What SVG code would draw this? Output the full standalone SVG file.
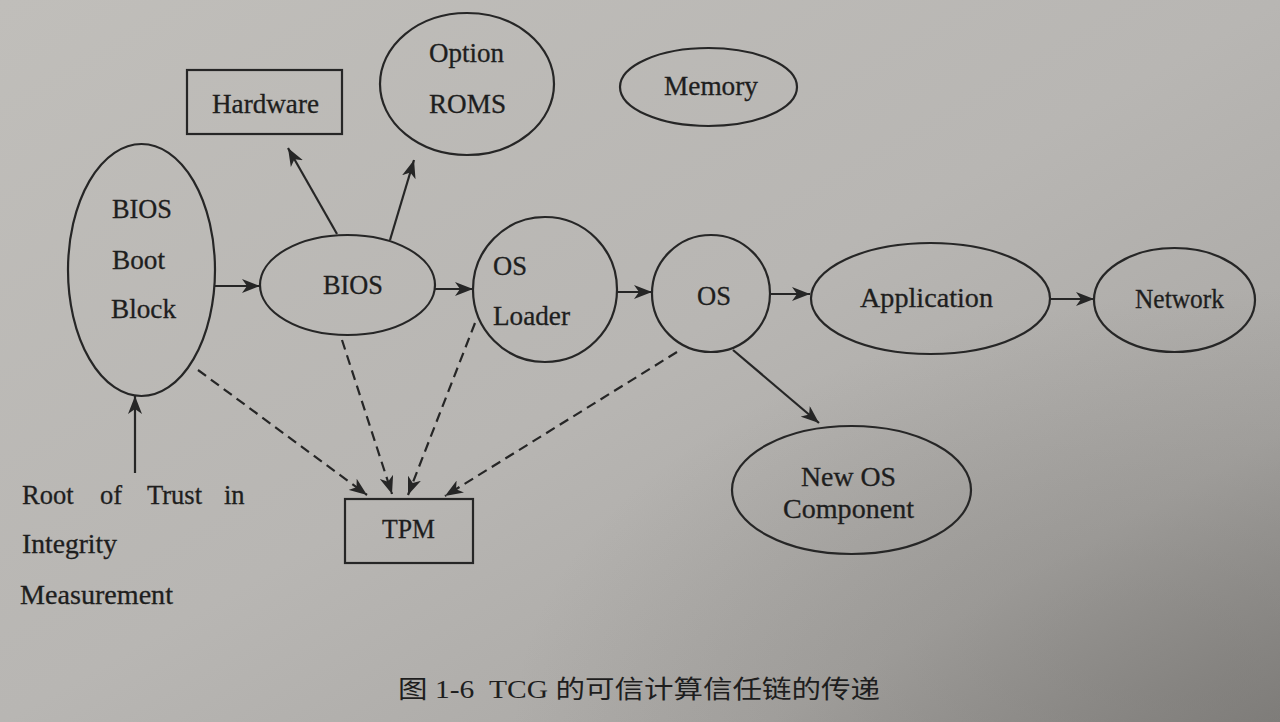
<svg xmlns="http://www.w3.org/2000/svg" width="1280" height="722" viewBox="0 0 1280 722">
  <defs>
    <linearGradient id="paper" x1="0" y1="0" x2="1" y2="1">
      <stop offset="0" stop-color="#c0beba"/>
      <stop offset="0.5" stop-color="#b8b6b3"/>
      <stop offset="0.8" stop-color="#aaa8a5"/>
      <stop offset="1" stop-color="#8e8c89"/>
    </linearGradient>
    <radialGradient id="shade" cx="1" cy="1" r="0.6">
      <stop offset="0" stop-color="#6f6d6a" stop-opacity="0.5"/>
      <stop offset="1" stop-color="#6f6d6a" stop-opacity="0"/>
    </radialGradient>
    <marker id="ah" markerUnits="userSpaceOnUse" markerWidth="20" markerHeight="14" refX="18" refY="7" orient="auto">
      <path d="M0,0 L18,7 L0,14 L5,7 Z" fill="#262626"/>
    </marker>
  </defs>
  <style>
    .shape { fill: none; stroke: #262626; stroke-width: 2.2; }
    .lbl { font-family: "Liberation Serif", "Times New Roman", serif; font-size: 26.5px; fill: #1e1e1e; stroke: #1e1e1e; stroke-width: 0.3; }
    .cap { font-family: "Liberation Serif", "Noto Sans CJK SC", serif; font-size: 25px; fill: #1e1e1e; }
    .link { fill: none; stroke: #262626; stroke-width: 2.2; marker-end: url(#ah); }
    .dash { stroke-dasharray: 10 6; }
  </style>
  <rect width="1280" height="722" fill="url(#paper)"/>
  <rect width="1280" height="722" fill="url(#shade)"/>

  <g id="hardware">
    <rect class="shape" x="187" y="70" width="155" height="64"/>
    <text class="lbl" x="212" y="113" textLength="107" lengthAdjust="spacingAndGlyphs">Hardware</text>
  </g>
  <g id="option-roms">
    <ellipse class="shape" cx="467" cy="84" rx="87" ry="71"/>
    <text class="lbl" x="429" y="62" textLength="75" lengthAdjust="spacingAndGlyphs">Option</text>
    <text class="lbl" x="429" y="113" textLength="77" lengthAdjust="spacingAndGlyphs">ROMS</text>
  </g>
  <g id="memory">
    <ellipse class="shape" cx="708.5" cy="87" rx="88.5" ry="39"/>
    <text class="lbl" x="664" y="95" textLength="94" lengthAdjust="spacingAndGlyphs">Memory</text>
  </g>
  <g id="bios-boot-block">
    <ellipse class="shape" cx="141.5" cy="270" rx="73.5" ry="126"/>
    <text class="lbl" x="112" y="218" textLength="60" lengthAdjust="spacingAndGlyphs">BIOS</text>
    <text class="lbl" x="112" y="269" textLength="53" lengthAdjust="spacingAndGlyphs">Boot</text>
    <text class="lbl" x="111" y="318" textLength="65" lengthAdjust="spacingAndGlyphs">Block</text>
  </g>
  <g id="bios">
    <ellipse class="shape" cx="347.5" cy="285" rx="87.5" ry="50"/>
    <text class="lbl" x="323" y="294" textLength="60" lengthAdjust="spacingAndGlyphs">BIOS</text>
  </g>
  <g id="os-loader">
    <ellipse class="shape" cx="545" cy="289.5" rx="72" ry="72.5"/>
    <text class="lbl" x="493" y="275" textLength="34" lengthAdjust="spacingAndGlyphs">OS</text>
    <text class="lbl" x="493" y="325" textLength="77" lengthAdjust="spacingAndGlyphs">Loader</text>
  </g>
  <g id="os">
    <ellipse class="shape" cx="711" cy="293.5" rx="59" ry="58.5"/>
    <text class="lbl" x="697" y="305" textLength="34" lengthAdjust="spacingAndGlyphs">OS</text>
  </g>
  <g id="application">
    <ellipse class="shape" cx="930.5" cy="298.5" rx="119.5" ry="55.5"/>
    <text class="lbl" x="860" y="307" textLength="133" lengthAdjust="spacingAndGlyphs">Application</text>
  </g>
  <g id="network">
    <ellipse class="shape" cx="1174.5" cy="300" rx="80.5" ry="52"/>
    <text class="lbl" x="1135" y="308" textLength="89" lengthAdjust="spacingAndGlyphs">Network</text>
  </g>
  <g id="new-os-component">
    <ellipse class="shape" cx="851.5" cy="490" rx="119.5" ry="64"/>
    <text class="lbl" x="801" y="486" textLength="95" lengthAdjust="spacingAndGlyphs">New OS</text>
    <text class="lbl" x="783" y="518" textLength="131" lengthAdjust="spacingAndGlyphs">Component</text>
  </g>
  <g id="tpm">
    <rect class="shape" x="345" y="499" width="128" height="64"/>
    <text class="lbl" x="382" y="538" textLength="53" lengthAdjust="spacingAndGlyphs">TPM</text>
  </g>
  <g id="rtm">
    <text class="lbl" y="504"><tspan x="22">Root</tspan> <tspan x="100">of</tspan> <tspan x="147">Trust</tspan> <tspan x="224">in</tspan></text>
    <text class="lbl" x="22" y="553" textLength="95" lengthAdjust="spacingAndGlyphs">Integrity</text>
    <text class="lbl" x="20" y="604" textLength="153" lengthAdjust="spacingAndGlyphs">Measurement</text>
  </g>

  <g id="connectors">
    <line class="link" x1="215" y1="286" x2="260" y2="286"/>
    <line class="link" x1="435" y1="289" x2="473" y2="289"/>
    <line class="link" x1="617" y1="292" x2="652" y2="292"/>
    <line class="link" x1="770" y1="294" x2="810" y2="294"/>
    <line class="link" x1="1050" y1="299" x2="1094" y2="299"/>
    <line class="link" x1="337" y1="234" x2="288" y2="148"/>
    <line class="link" x1="390" y1="240" x2="414" y2="160"/>
    <line class="link" x1="733" y1="350" x2="819" y2="423"/>
    <line class="link" x1="135" y1="473" x2="135" y2="396"/>
    <line class="link dash" x1="198" y1="370" x2="367" y2="495"/>
    <line class="link dash" x1="342" y1="340" x2="392" y2="494"/>
    <line class="link dash" x1="475" y1="323" x2="408" y2="495"/>
    <line class="link dash" x1="677" y1="352" x2="445" y2="496"/>
  </g>

  <text class="cap" x="398" y="698" textLength="482" lengthAdjust="spacingAndGlyphs" xml:space="preserve">图 1-6  TCG 的可信计算信任链的传递</text>
</svg>
